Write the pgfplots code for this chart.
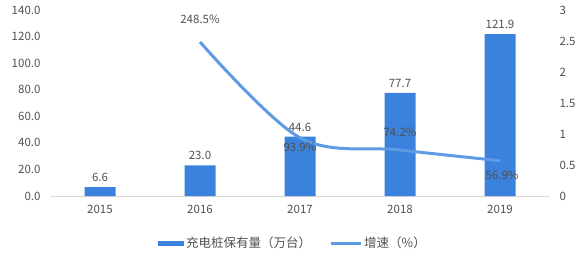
\documentclass[border=0pt]{standalone}
\usepackage{pgfplots}
\pgfplotsset{compat=1.18}
\usepackage{fontspec}
\setmainfont{Noto Sans CJK SC}
\definecolor{barblue}{RGB}{59,130,222}
\definecolor{lineblue}{RGB}{95,155,228}
\definecolor{txt}{RGB}{80,80,80}
\begin{document}
\begin{tikzpicture}[font=\fontsize{11.5}{13}\selectfont]
\begin{axis}[name=ax, at={(0,0)}, anchor=south west, scale only axis,
  width=500pt, height=186pt,
  xmin=-0.5, xmax=4.5, ymin=0, ymax=140,
  ytick={0,20,...,140}, xtick={0,1,2,3,4}, xticklabels={2015,2016,2017,2018,2019},
  axis x line*=bottom, axis y line*=left,
  y axis line style={draw=none}, x axis line style={draw=black!15, line width=0.8pt, -},
  major tick length=0pt,
  /pgf/number format/assume math mode=true,
  ticklabel style={text=txt},
  yticklabel style={xshift=-6pt},
  yticklabel style={/pgf/number format/fixed, /pgf/number format/fixed zerofill, /pgf/number format/precision=1},
  xticklabel style={yshift=-6pt},
  legend style={at={(0.486,-0.253)}, anchor=center, draw=none, fill=none,
    legend columns=2, text=txt, font=\fontsize{12.5}{14}\selectfont,
    /tikz/every even column/.append style={column sep=16pt}},
  legend cell align=left,
]
\addplot[ybar, bar width=31pt, fill=barblue, draw=none,
  nodes near coords={\pgfmathprintnumber[fixed,fixed zerofill,precision=1,assume math mode=true]{\pgfplotspointmeta}},
  every node near coord/.append style={text=txt, yshift=2pt},
  legend image code/.code={\fill[barblue] (0pt,-2.5pt) rectangle (26pt,2.5pt);}]
  coordinates {(0,6.6) (1,23.0) (2,44.6) (3,77.7) (4,121.9)};
\addlegendentry{充电桩保有量（万台）}
\addlegendimage{legend image code/.code={\draw[lineblue, line width=3pt] (0pt,0pt) -- (30pt,0pt);}}
\addlegendentry{增速（\%）}
\end{axis}
\begin{axis}[at={(0,0)}, anchor=south west, scale only axis,
  width=500pt, height=186pt,
  xmin=-0.5, xmax=4.5, ymin=0, ymax=3,
  ytick={0,0.5,1,1.5,2,2.5,3}, yticklabels={0,0.5,1,1.5,2,2.5,3},
  axis y line*=right, axis x line=none,
  y axis line style={draw=none},
  major tick length=0pt,
  yticklabel style={anchor=west, text=txt, xshift=6pt},
]
\addplot[lineblue, line width=3pt, smooth, tension=0.55]
  coordinates {(1,2.485) (2,0.939) (3,0.742) (4,0.569)};
\addplot[draw=none, nodes near coords, point meta=explicit symbolic,
  every node near coord/.append style={anchor=center, yshift=23pt, text=txt}]
  coordinates {(1,2.485) [248.5\%]};
\addplot[draw=none, nodes near coords, point meta=explicit symbolic,
  every node near coord/.append style={anchor=center, yshift=-10pt, text=txt}]
  coordinates {(2,0.939) [93.9\%]};
\addplot[draw=none, nodes near coords, point meta=explicit symbolic,
  every node near coord/.append style={anchor=center, yshift=18pt, text=txt}]
  coordinates {(3,0.742) [74.2\%]};
\addplot[draw=none, nodes near coords, point meta=explicit symbolic,
  every node near coord/.append style={anchor=center, yshift=-15pt, xshift=2pt, text=txt}]
  coordinates {(4,0.569) [56.9\%]};
\end{axis}
\pgfresetboundingbox
\useasboundingbox ([shift={(-50pt,-69pt)}]ax.south west) rectangle ([shift={(36pt,10pt)}]ax.north east);
\end{tikzpicture}
\end{document}
